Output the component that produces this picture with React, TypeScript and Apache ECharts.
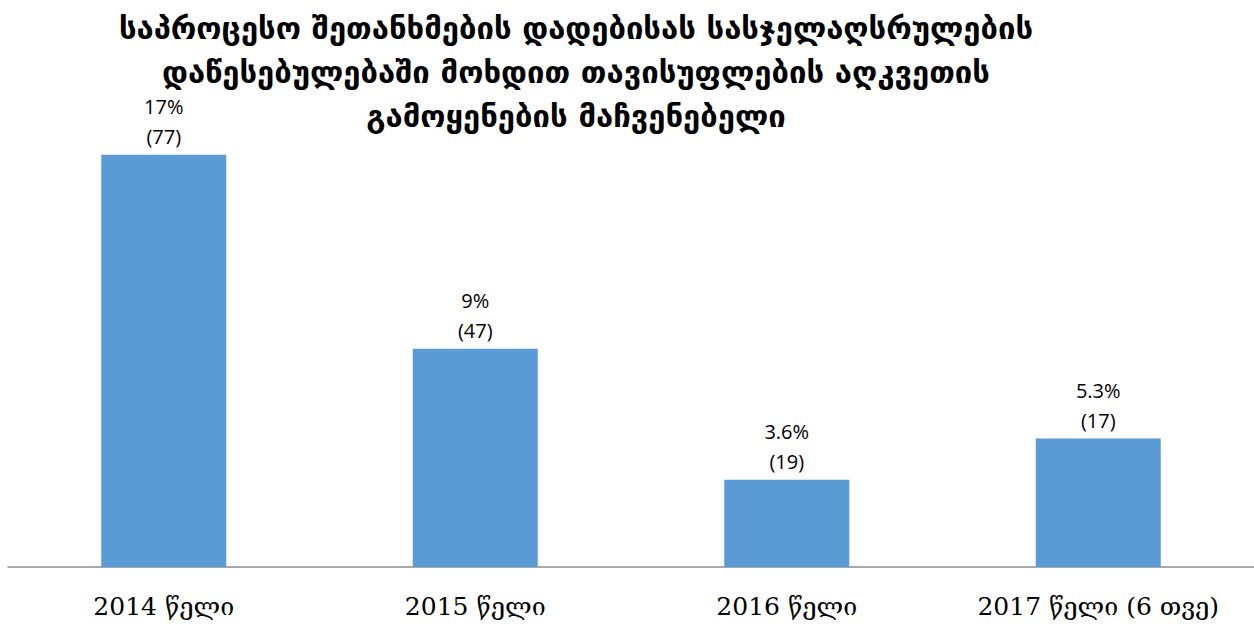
import React, { useEffect, useRef } from "react";
import * as echarts from "echarts";

const categories = ["2014 წელი", "2015 წელი", "2016 წელი", "2017 წელი (6 თვე)"];
const percentValues = [17, 9, 3.6, 5.3];
const countValues = [77, 47, 19, 17];
const titleText =
  "საპროცესო შეთანხმების დადებისას სასჯელაღსრულების\nდაწესებულებაში მოხდით თავისუფლების აღკვეთის\nგამოყენების მაჩვენებელი";

export default function App() {
  const ref = useRef<HTMLDivElement>(null);
  useEffect(() => {
    if (!ref.current) return;
    const chart = echarts.init(ref.current, null, { renderer: "svg" });
    chart.setOption({
      animation: false,
      backgroundColor: "#ffffff",
      title: {
        text: titleText,
        left: 571,
        top: 1,
        textAlign: "center",
        textStyle: {
          fontFamily: "DejaVu Sans",
          fontWeight: "bold",
          fontSize: 31,
          lineHeight: 44,
          color: "#000000",
        },
      },
      grid: { left: 8, right: 0, top: 82, bottom: 59, containLabel: false },
      xAxis: {
        type: "category",
        data: categories,
        axisLine: { show: true, lineStyle: { color: "#8c8c8c", width: 1.5 } },
        axisTick: { show: false },
        axisLabel: {
          fontFamily: "DejaVu Serif",
          fontSize: 25,
          color: "#000000",
          margin: 27,
          interval: 0,
        },
      },
      yAxis: {
        type: "value",
        min: 0,
        max: 20,
        show: false,
        splitLine: { show: false },
      },
      series: [
        {
          type: "bar",
          data: percentValues,
          barWidth: 125,
          itemStyle: { color: "#5B9BD5" },
          label: {
            show: true,
            position: "top",
            distance: 3,
            fontFamily: "Open Sans",
            fontSize: 20,
            lineHeight: 30,
            color: "#000000",
            formatter: (p: any) => `${percentValues[p.dataIndex]}%\n(${countValues[p.dataIndex]})`,
          },
        },
      ],
    });
    return () => chart.dispose();
  }, []);
  return <div ref={ref} style={{ width: 1254, height: 626, position: "absolute", left: 0, top: 0 }} />;
}
